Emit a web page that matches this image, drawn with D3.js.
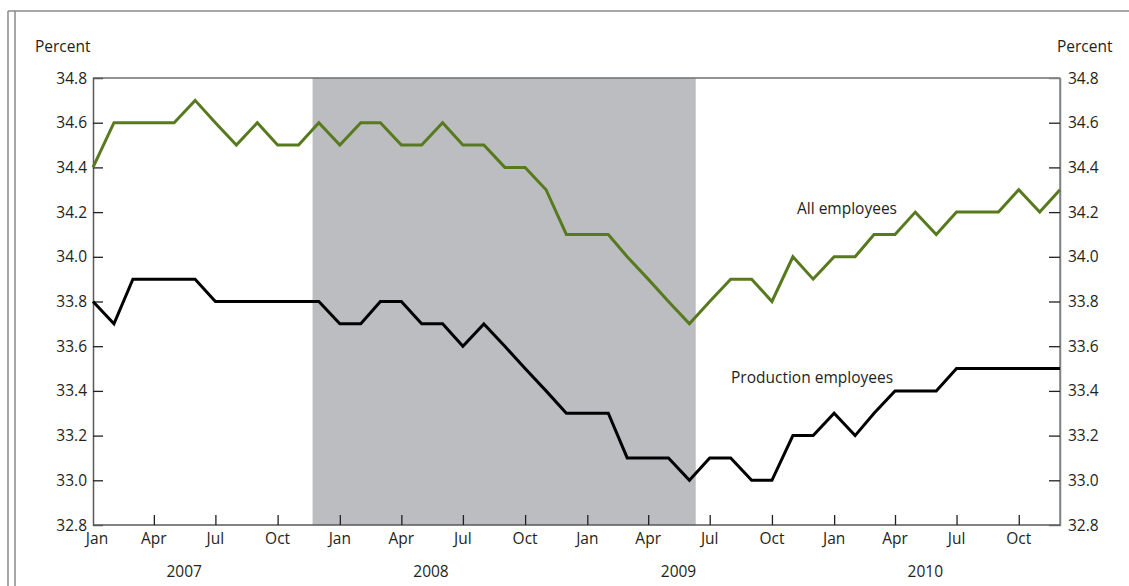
<!DOCTYPE html>
<html><head><meta charset="utf-8">
<script src="https://cdn.jsdelivr.net/npm/d3@7"></script>
<style>
html,body{margin:0;padding:0;background:#fff;}
svg text{font-family:"Open Sans","Noto Sans",sans-serif;fill:#231f20;}
</style></head>
<body><svg id="c" width="1129" height="586"></svg>
<script>
// ---- data ----
const startMonth = "2007-01";
const endMonth = "2010-12";
const allEmployees = [
  34.4,34.6,34.6,34.6,34.6,34.7,34.6,34.5,34.6,34.5,34.5,34.6,
  34.5,34.6,34.6,34.5,34.5,34.6,34.5,34.5,34.4,34.4,34.3,34.1,
  34.1,34.1,34.0,33.9,33.8,33.7,33.8,33.9,33.9,33.8,34.0,33.9,
  34.0,34.0,34.1,34.1,34.2,34.1,34.2,34.2,34.2,34.3,34.2,34.3
];
const productionEmployees = [
  33.8,33.7,33.9,33.9,33.9,33.9,33.8,33.8,33.8,33.8,33.8,33.8,
  33.7,33.7,33.8,33.8,33.7,33.7,33.6,33.7,33.6,33.5,33.4,33.3,
  33.3,33.3,33.1,33.1,33.1,33.0,33.1,33.1,33.0,33.0,33.2,33.2,
  33.3,33.2,33.3,33.4,33.4,33.4,33.5,33.5,33.5,33.5,33.5,33.5
];
const yTicks = [32.8,33.0,33.2,33.4,33.6,33.8,34.0,34.2,34.4,34.6,34.8];
const years = ["2007","2008","2009","2010"];
const recession = ["2007-12","2009-06"];
const seriesLabels = ["All employees","Production employees"];
const axisTitle = "Percent";

// ---- layout ----
const svg = d3.select("#c");
const L = 93, R = 1060, T = 78, B = 525;
const FS = 15.5;
const parse = d3.timeParse("%Y-%m");
const months = d3.timeMonth.range(parse(startMonth), d3.timeMonth.offset(parse(endMonth), 1));
const x = d3.scaleTime().domain([months[0], months[months.length-1]]).range([L, R]);
const y = d3.scaleLinear().domain([32.8, 34.8]).range([B, T]);
const monthW = x(months[1]) - x(months[0]);

// outer frame
svg.append("line").attr("x1",8).attr("x2",1129).attr("y1",11).attr("y2",11).attr("stroke","#8a8a8a").attr("stroke-width",1.5);
svg.append("line").attr("x1",8).attr("x2",8).attr("y1",11).attr("y2",586).attr("stroke","#8a8a8a").attr("stroke-width",1.5);
svg.append("line").attr("x1",15).attr("x2",15).attr("y1",11).attr("y2",586).attr("stroke","#8a8a8a").attr("stroke-width",1.5);

// recession shading
const rs = x(parse(recession[0])) - 0.3*monthW;
const re = x(parse(recession[1])) + 0.3*monthW;
svg.append("rect").attr("x",rs).attr("y",T).attr("width",re-rs).attr("height",B-T).attr("fill","#bcbdc1");

// plot frame
svg.append("line").attr("x1",L).attr("x2",R).attr("y1",T).attr("y2",T).attr("stroke","#6d6e71").attr("stroke-width",1.5);
svg.append("line").attr("x1",R).attr("x2",R).attr("y1",T).attr("y2",B).attr("stroke","#808285").attr("stroke-width",1.5);

// y axes
const yl = svg.append("g").attr("transform",`translate(${L},0)`)
  .call(d3.axisRight(y).tickValues(yTicks).tickSize(10).tickFormat(""));
const yr = svg.append("g").attr("transform",`translate(${R},0)`)
  .call(d3.axisLeft(y).tickValues(yTicks).tickSize(11).tickFormat(""));
[yl,yr].forEach(g=>{
  g.select(".domain").attr("stroke","#58595b").attr("stroke-width",1.5);
  g.selectAll(".tick line").attr("stroke","#231f20").attr("stroke-width",1.3);
  g.selectAll(".tick").filter(d=>d===32.8||d===34.8).select("line").remove();
});
yr.select(".domain").attr("stroke","#808285");
svg.append("g").selectAll("text").data(yTicks).join("text")
  .attr("x",87).attr("y",d=>y(d)+5.5).attr("text-anchor","end").attr("font-size",FS).text(d=>d.toFixed(1));
svg.append("g").selectAll("text").data(yTicks).join("text")
  .attr("x",1068).attr("y",d=>y(d)+5.5).attr("text-anchor","start").attr("font-size",FS).text(d=>d.toFixed(1));
svg.append("text").attr("x",35).attr("y",52).attr("font-size",FS).text(axisTitle);
svg.append("text").attr("x",1057).attr("y",52).attr("font-size",FS).text(axisTitle);

// x axis
const qMonths = months.filter(m=>m.getMonth()%3===0);
const xa = svg.append("g").attr("transform",`translate(0,${B})`)
  .call(d3.axisTop(x).tickValues(qMonths.slice(1)).tickSize(10).tickFormat(""));
xa.select(".domain").attr("stroke","#58595b").attr("stroke-width",1.5).attr("d",`M${L},0H${R}`);
xa.selectAll(".tick line").attr("stroke","#231f20").attr("stroke-width",1.3);
svg.append("g").selectAll("text").data(qMonths).join("text")
  .attr("x",(d,i)=>x(d)+(i===0?4:0)).attr("y",544).attr("text-anchor","middle").attr("font-size",FS)
  .text(d3.timeFormat("%b"));
svg.append("g").selectAll("text").data(years).join("text")
  .attr("x",d=>x(parse(d+"-01"))+4.35*monthW).attr("y",577)
  .attr("text-anchor","middle").attr("font-size",FS).text(d=>d);

// lines
const line = d3.line().x((d,i)=>x(months[i])).y(d=>y(d));
svg.append("path").datum(productionEmployees).attr("d",line).attr("fill","none")
  .attr("stroke","#000").attr("stroke-width",3);
svg.append("path").datum(allEmployees).attr("d",line).attr("fill","none")
  .attr("stroke","#587a1e").attr("stroke-width",3);

// labels
svg.append("text").attr("x",797).attr("y",214).attr("font-size",FS).text(seriesLabels[0]);
svg.append("text").attr("x",731).attr("y",383).attr("font-size",FS).text(seriesLabels[1]);
</script></body></html>
